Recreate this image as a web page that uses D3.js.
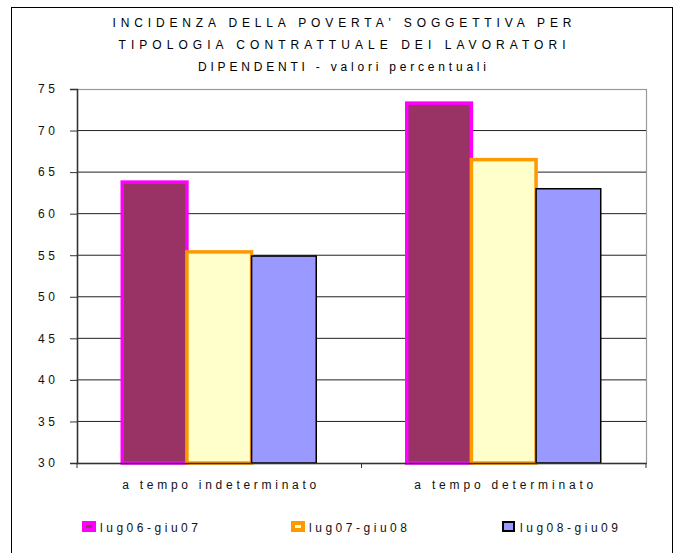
<!DOCTYPE html>
<html>
<head>
<meta charset="utf-8">
<script src="https://cdn.jsdelivr.net/npm/d3@7"></script>
<style>
  html, body { margin: 0; padding: 0; background: #fff; }
  svg { display: block; font-family: "Liberation Sans", Arial, sans-serif; }
</style>
</head>
<body>
<svg id="chart" width="676" height="553"></svg>
<script>
const titleLines = [
  "INCIDENZA DELLA POVERTA' SOGGETTIVA PER",
  "TIPOLOGIA CONTRATTUALE DEI LAVORATORI",
  "DIPENDENTI - valori percentuali"
];
const categories = ["a tempo indeterminato", "a tempo determinato"];
const seriesNames = ["lug06-giu07", "lug07-giu08", "lug08-giu09"];
const values_lug06_giu07 = [63.8, 73.3];
const values_lug07_giu08 = [55.4, 66.5];
const values_lug08_giu09 = [54.9, 63.0];
const yTicks = [30, 35, 40, 45, 50, 55, 60, 65, 70, 75];

const seriesValues = [values_lug06_giu07, values_lug07_giu08, values_lug08_giu09];
const fills = ["#993366", "#FFFFCC", "#9999FF"];
const strokes = ["#FF00FF", "#FF9900", "#000000"];
const strokeW = [3.5, 3.5, 1.5];

const svg = d3.select("#chart");

// outer frame
svg.append("rect").attr("x", 11.5).attr("y", 7.5).attr("width", 661).attr("height", 560)
  .attr("fill", "#fff").attr("stroke", "#000").attr("stroke-width", 1);

const plot = { left: 77, right: 646, top: 89, bottom: 463 };

const x0 = d3.scaleBand().domain(categories).range([plot.left, plot.right]).padding(0);
const x1 = d3.scaleBand().domain(seriesNames).range([0, x0.bandwidth()]).paddingInner(0).paddingOuter(0.7);
const y = d3.scaleLinear().domain([30, 75]).range([plot.bottom, plot.top]);

// title
const titleW = [459, 447, 288];
svg.append("g").selectAll("text").data(titleLines).join("text")
  .attr("x", 342).attr("y", (d, i) => 27 + i * 22)
  .attr("text-anchor", "middle")
  .attr("font-size", 12).attr("fill", "#000")
  .attr("textLength", (d, i) => titleW[i]).attr("lengthAdjust", "spacing")
  .text(d => d);

// plot border (gray)
svg.append("rect").attr("x", plot.left + 0.5).attr("y", plot.top + 0.5)
  .attr("width", plot.right - plot.left).attr("height", plot.bottom - plot.top)
  .attr("fill", "none").attr("stroke", "#999").attr("stroke-width", 1.2);

// gridlines
svg.append("g").selectAll("line").data(yTicks.filter(t => t > 30 && t < 75)).join("line")
  .attr("x1", plot.left).attr("x2", plot.right)
  .attr("y1", d => y(d)).attr("y2", d => y(d))
  .attr("stroke", "#222").attr("stroke-width", 1);

// y axis
const yAxis = d3.axisLeft(y).tickValues(yTicks).tickSize(7).tickPadding(15).tickFormat(d3.format("d"));
const gy = svg.append("g").attr("transform", `translate(${plot.left},0)`).call(yAxis);
gy.select(".domain").attr("stroke", "#333").attr("stroke-width", 1.5);
gy.selectAll(".tick line").attr("stroke", "#333");
gy.selectAll(".tick text").attr("font-size", 12).attr("fill", "#111")
  .attr("font-family", "Liberation Sans, Arial, sans-serif")
  .attr("textLength", 17).attr("lengthAdjust", "spacing");

// bars
const groups = svg.append("g").selectAll("g").data(categories).join("g")
  .attr("transform", d => `translate(${x0(d)},0)`);
seriesNames.forEach((s, si) => {
  groups.append("rect")
    .attr("x", x1(s))
    .attr("y", (d, ci) => y(seriesValues[si][ci]))
    .attr("width", x1.bandwidth())
    .attr("height", (d, ci) => y(30) - y(seriesValues[si][ci]))
    .attr("fill", fills[si])
    .attr("stroke", strokes[si])
    .attr("stroke-width", strokeW[si]);
});

// x axis
const xAxis = d3.axisBottom(x0).tickSize(0).tickFormat("");
const gx = svg.append("g").attr("transform", `translate(0,${plot.bottom})`).call(xAxis);
gx.select(".domain").attr("stroke", "#333").attr("stroke-width", 1.5);
// boundary ticks
const bounds = [plot.left, plot.left + x0.bandwidth(), plot.right];
svg.append("g").selectAll("line").data(bounds).join("line")
  .attr("x1", d => d).attr("x2", d => d)
  .attr("y1", plot.bottom).attr("y2", plot.bottom + 5)
  .attr("stroke", "#333").attr("stroke-width", 1);

// category labels
const catW = [194, 179];
svg.append("g").selectAll("text").data(categories).join("text")
  .attr("x", d => x0(d) + x0.bandwidth() / 2)
  .attr("y", 489)
  .attr("text-anchor", "middle").attr("font-size", 12).attr("fill", "#111")
  .attr("textLength", (d, i) => catW[i]).attr("lengthAdjust", "spacing")
  .text(d => d);

// legend
const legendX = [82, 291, 502];
const lg = svg.append("g").selectAll("g").data(seriesNames).join("g")
  .attr("transform", (d, i) => `translate(${legendX[i]},521)`);
lg.append("rect")
  .attr("x", (d, i) => i === 2 ? 1 : 2)
  .attr("y", (d, i) => i === 2 ? 1 : 2)
  .attr("width", (d, i) => i === 2 ? 11 : 10)
  .attr("height", (d, i) => i === 2 ? 9 : 7)
  .attr("fill", (d, i) => fills[i]).attr("stroke", (d, i) => strokes[i])
  .attr("stroke-width", (d, i) => i === 2 ? 2 : 4);
lg.append("text").attr("x", 18).attr("y", 10.5)
  .attr("font-size", 12).attr("fill", "#111")
  .attr("textLength", 98).attr("lengthAdjust", "spacing")
  .text(d => d);
</script>
</body>
</html>
